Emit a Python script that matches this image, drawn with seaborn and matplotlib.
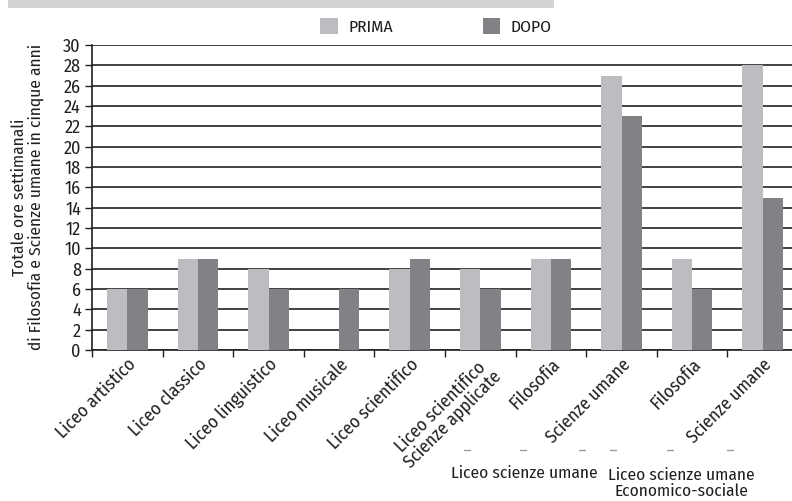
import matplotlib
matplotlib.use("Agg")
import matplotlib.pyplot as plt
import matplotlib.transforms as mtransforms
from matplotlib.patches import Rectangle
from matplotlib.lines import Line2D
import seaborn as sns
import pandas as pd
import numpy as np

# Data
categories = [
    "Liceo artistico", "Liceo classico", "Liceo linguistico", "Liceo musicale",
    "Liceo scientifico", "Liceo scientifico\nScienze applicate", "Filosofia",
    "Scienze umane", "Filosofia", "Scienze umane",
]
prima = [6, 9, 8, 0, 8, 8, 9, 27, 9, 28]
dopo = [6, 9, 6, 6, 9, 6, 9, 23, 6, 15]
series = ["PRIMA", "DOPO"]
yticks = list(range(0, 31, 2))

sns.set_theme(style="white")
plt.rcParams["font.family"] = ["Fira Sans Condensed", "DejaVu Sans"]
plt.rcParams["font.weight"] = "normal"

df = pd.DataFrame({
    "pos": list(range(len(categories))) * 2,
    "value": prima + dopo,
    "serie": [series[0]] * len(prima) + [series[1]] * len(dopo),
})

TXT = "#231f20"
FS = 12.5
fig = plt.figure(figsize=(7.92, 5.01), dpi=100)
ax = fig.add_axes([92 / 792, 1 - 350 / 501, 706 / 792, 305 / 501])

palette = {"PRIMA": "#bcbdc0", "DOPO": "#808285"}
sns.barplot(data=df, x="pos", y="value", hue="serie", hue_order=series,
            palette=palette, width=0.574, gap=0, saturation=1,
            edgecolor="none", linewidth=0, legend=False, ax=ax, zorder=3)

ax.set_xlim(-0.5, len(categories) - 0.5)
ax.set_ylim(0, 30)
ax.set_yticks(yticks)
ax.set_yticklabels([str(v) for v in yticks], fontsize=FS + 0.5, color=TXT)
ax.yaxis.grid(True, color="#333333", linewidth=1.3, zorder=1)
ax.xaxis.grid(False)
ax.set_axisbelow(True)

# group boundaries as ticks, names as minor labels at group centres
ax.set_xticks(np.arange(len(categories) + 1) - 0.5)
ax.set_xticklabels([])
ax.set_xticks(np.arange(len(categories)), minor=True)
ax.set_xticklabels(categories, minor=True, rotation=45, ha="right",
                   va="top", rotation_mode="anchor", fontsize=FS + 0.5,
                   color=TXT, linespacing=0.9)
shift = mtransforms.ScaledTranslation(11 / 100, 0, fig.dpi_scale_trans)
for lab in ax.get_xticklabels(minor=True):
    lab.set_transform(lab.get_transform() + shift)
    lab.set_multialignment("center")
ax.tick_params(axis="x", which="minor", length=0, pad=4)
ax.tick_params(axis="x", which="major", direction="out", length=5,
               width=1, color=TXT, bottom=True)
ax.tick_params(axis="y", direction="out", length=5, width=1,
               color=TXT, left=True, pad=3)

for side in ["top", "right"]:
    ax.spines[side].set_visible(False)
for side in ["left", "bottom"]:
    ax.spines[side].set_color(TXT)
    ax.spines[side].set_linewidth(1.2)

ax.set_xlabel("")
ax.set_ylabel("Totale ore settimanali\ndi Filosofia e Scienze umane in cinque anni",
              fontsize=FS, color=TXT, linespacing=1.05, labelpad=14)

# header band
fig.patches.append(Rectangle((8 / 792, 1 - 8 / 501), 546 / 792, 8 / 501,
                             transform=fig.transFigure, facecolor="#d1d3d4",
                             edgecolor="none"))

# legend
handles = [Rectangle((0, 0), 1, 1, facecolor=palette[s], edgecolor="none")
           for s in series]
fig.legend(handles, series, loc="center", bbox_to_anchor=(436 / 792, 1 - 27 / 501),
           ncol=2, frameon=False, fontsize=FS, handlelength=1.0,
           handleheight=1.0, handletextpad=0.6, columnspacing=5.2,
           labelcolor=TXT)

# group captions with their small bracket marks
for xs in ([467, 523, 582], [613, 670, 730]):
    for x in xs:
        fig.add_artist(Line2D([(x - 3) / 792, (x + 3) / 792],
                              [1 - 450 / 501, 1 - 450 / 501],
                              transform=fig.transFigure, color="#9a9a9a",
                              linewidth=1))
fig.text(524 / 792, 1 - 473 / 501, "Liceo scienze umane", ha="center",
         va="center", fontsize=FS, color=TXT)
fig.text(681 / 792, 1 - 483 / 501, "Liceo scienze umane\nEconomico-sociale",
         ha="center", va="center", fontsize=FS, color=TXT,
         linespacing=1.0)

fig.savefig("out.png", dpi=100)
